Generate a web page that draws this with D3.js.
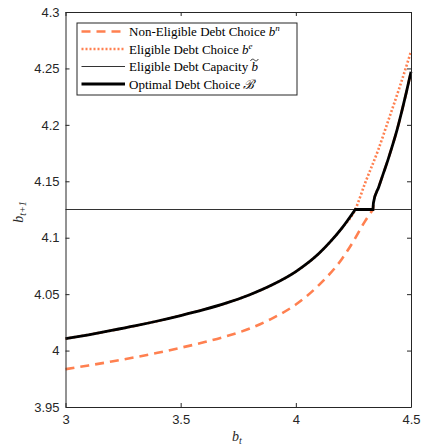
<!DOCTYPE html>
<html><head><meta charset="utf-8">
<script src="https://cdn.jsdelivr.net/npm/d3@7"></script>
<style>body{margin:0;background:#fff}svg{display:block}</style>
</head><body>
<script>
// ---- data ----
const xTicks = [3, 3.5, 4, 4.5];
const yTicks = [3.95, 4, 4.05, 4.1, 4.15, 4.2, 4.25, 4.3];
const capacity = 4.125;
// Eligible debt choice b^e
const eligibleX = [3.0, 3.1, 3.2, 3.3, 3.4, 3.5, 3.6, 3.7, 3.8, 3.9, 4.0, 4.1, 4.15, 4.2, 4.258, 4.3, 4.358, 4.4, 4.45, 4.5];
const eligibleY = [4.0105, 4.0140, 4.0178, 4.0218, 4.0262, 4.0310, 4.0362, 4.0422, 4.0495, 4.0585, 4.0700, 4.0860, 4.0965, 4.1085, 4.125, 4.148, 4.178, 4.203, 4.233, 4.265];
// Non-eligible debt choice b^n
const nonEligX = [3.0, 3.1, 3.2, 3.3, 3.4, 3.5, 3.6, 3.7, 3.8, 3.9, 4.0, 4.1, 4.2, 4.25, 4.3, 4.335, 4.337, 4.36, 4.38, 4.40, 4.42, 4.44, 4.46, 4.48, 4.5];
const nonEligY = [3.9835, 3.9868, 3.9903, 3.9940, 3.9980, 4.0025, 4.0073, 4.0128, 4.0195, 4.0288, 4.0408, 4.0580, 4.0812, 4.0968, 4.1145, 4.125, 4.131, 4.145, 4.157, 4.169, 4.182, 4.196, 4.212, 4.229, 4.247];
// Optimal debt choice (eligible branch, capped at capacity, non-eligible branch)
const optimalX = [3.0, 3.1, 3.2, 3.3, 3.4, 3.5, 3.6, 3.7, 3.8, 3.9, 4.0, 4.1, 4.15, 4.2, 4.258, 4.335, 4.337, 4.36, 4.38, 4.40, 4.42, 4.44, 4.46, 4.48, 4.5];
const optimalY = [4.0105, 4.0140, 4.0178, 4.0218, 4.0262, 4.0310, 4.0362, 4.0422, 4.0495, 4.0585, 4.0700, 4.0860, 4.0965, 4.1085, 4.125, 4.125, 4.131, 4.145, 4.157, 4.169, 4.182, 4.196, 4.212, 4.229, 4.247];
const optimalBreaks = [14, 15]; // indices where the optimal path has corners

// ---- chart ----
const W = 423, H = 446;
const m = {left: 65.5, right: 411, top: 12, bottom: 407};
const svg = d3.select("body").append("svg").attr("width", W).attr("height", H);
const x = d3.scaleLinear().domain([3, 4.5]).range([m.left, m.right]);
const y = d3.scaleLinear().domain([3.95, 4.3]).range([m.bottom, m.top]);
const axisCol = "#262626";
const orange = "#ff8050";
const sans = "'Liberation Sans', Arial, sans-serif";
const serif = "'Liberation Serif', 'Times New Roman', serif";

const zip = (xs, ys) => xs.map((v, i) => [v, ys[i]]);
const smooth = d3.line().x(d => x(d[0])).y(d => y(d[1])).curve(d3.curveMonotoneX);
function piecewise(pts, breaks) {
  const cuts = [0, ...breaks, pts.length - 1];
  let d = "";
  for (let i = 0; i < cuts.length - 1; i++) {
    const seg = pts.slice(cuts[i], cuts[i + 1] + 1);
    let s = smooth(seg);
    if (i > 0) s = "L" + s.slice(1);
    d += s;
  }
  return d;
}

// capacity line
svg.append("line").attr("x1", x(3)).attr("x2", x(4.5))
  .attr("y1", y(capacity)).attr("y2", y(capacity))
  .attr("stroke", "#333").attr("stroke-width", 1);

svg.append("path").attr("d", piecewise(zip(nonEligX, nonEligY), [15]))
  .attr("fill", "none").attr("stroke", orange).attr("stroke-width", 2.6)
  .attr("stroke-dasharray", "9,6");
svg.append("path").attr("d", piecewise(zip(eligibleX, eligibleY), []))
  .attr("fill", "none").attr("stroke", orange).attr("stroke-width", 2.6)
  .attr("stroke-dasharray", "2,2");
svg.append("path").attr("d", piecewise(zip(optimalX, optimalY), optimalBreaks))
  .attr("fill", "none").attr("stroke", "#000").attr("stroke-width", 2.8)
  .attr("stroke-linejoin", "miter");

// axes (box with inward ticks)
const tickLen = 4;
const gB = svg.append("g").attr("transform", `translate(0,${m.bottom})`)
  .call(d3.axisBottom(x).tickValues(xTicks).tickFormat(d3.format("")).tickSizeInner(-tickLen).tickSizeOuter(0).tickPadding(8));
const gT = svg.append("g").attr("transform", `translate(0,${m.top})`)
  .call(d3.axisTop(x).tickValues(xTicks).tickFormat("").tickSizeInner(-tickLen).tickSizeOuter(0));
const gL = svg.append("g").attr("transform", `translate(${m.left},0)`)
  .call(d3.axisLeft(y).tickValues(yTicks).tickFormat(d3.format("")).tickSizeInner(-tickLen).tickSizeOuter(0).tickPadding(6));
const gR = svg.append("g").attr("transform", `translate(${m.right},0)`)
  .call(d3.axisRight(y).tickValues(yTicks).tickFormat("").tickSizeInner(-tickLen).tickSizeOuter(0));
[gB, gT, gL, gR].forEach(g => {
  g.selectAll("path").attr("stroke", axisCol).attr("stroke-width", 1);
  g.selectAll("line").attr("stroke", axisCol).attr("stroke-width", 1);
  g.selectAll("text").attr("fill", axisCol).style("font-family", sans).style("font-size", "13px");
});

// axis labels
const xl = svg.append("text").attr("x", 237).attr("y", 441).attr("text-anchor", "middle")
  .style("font-family", serif).style("font-size", "14px").attr("fill", axisCol);
xl.append("tspan").text("b").style("font-style", "italic");
xl.append("tspan").text("t").style("font-style", "italic").style("font-size", "10px").attr("dy", 3);

const yl = svg.append("text").attr("transform", "translate(23,212) rotate(-90)").attr("text-anchor", "middle")
  .style("font-family", serif).style("font-size", "14px").attr("fill", axisCol);
yl.append("tspan").text("b").style("font-style", "italic");
yl.append("tspan").text("t+1").style("font-style", "italic").style("font-size", "10px").attr("dy", 3);

// legend
const lg = svg.append("g");
lg.append("rect").attr("x", 77).attr("y", 23).attr("width", 220).attr("height", 72)
  .attr("fill", "#fff").attr("stroke", axisCol).attr("stroke-width", 1);
const legendItems = [
  {label: "Non-Eligible Debt Choice ", math: "n", stroke: orange, w: 2.6, dash: "9,6"},
  {label: "Eligible Debt Choice ", math: "e", stroke: orange, w: 2.6, dash: "2,2"},
  {label: "Eligible Debt Capacity ", math: "tilde", stroke: "#333", w: 1, dash: null},
  {label: "Optimal Debt Choice ", math: "B", stroke: "#000", w: 2.8, dash: null}
];
const ly = [31.5, 49, 66.5, 84];
legendItems.forEach((it, i) => {
  const yy = ly[i];
  lg.append("line").attr("x1", 81.5).attr("x2", 125).attr("y1", yy).attr("y2", yy)
    .attr("stroke", it.stroke).attr("stroke-width", it.w).attr("stroke-dasharray", it.dash);
  const t = lg.append("text").attr("x", 129).attr("y", yy + 4.5)
    .style("font-family", serif).style("font-size", "13px").attr("fill", "#000");
  t.append("tspan").text(it.label);
  if (it.math === "n" || it.math === "e") {
    t.append("tspan").text("b").style("font-style", "italic");
    t.append("tspan").text(it.math).style("font-style", "italic").style("font-size", "9px").attr("dy", -5);
  } else if (it.math === "tilde") {
    t.append("tspan").text("b").style("font-style", "italic");
  } else {
    t.append("tspan").text("ℬ").style("font-style", "italic");
  }
  it.node = t.node();
});
// wide tilde accent above the b in the capacity entry
const tw = legendItems[2].node.getComputedTextLength();
const tx = 129 + tw - 3.5, ty = ly[2] - 6.5;
lg.append("path")
  .attr("d", `M${tx - 4},${ty + 1} C${tx - 2.5},${ty - 1.5} ${tx - 1},${ty - 1} ${tx},${ty} S${tx + 2.5},${ty + 1.5} ${tx + 4},${ty - 1}`)
  .attr("fill", "none").attr("stroke", "#000").attr("stroke-width", 0.8);
</script>
</body></html>
